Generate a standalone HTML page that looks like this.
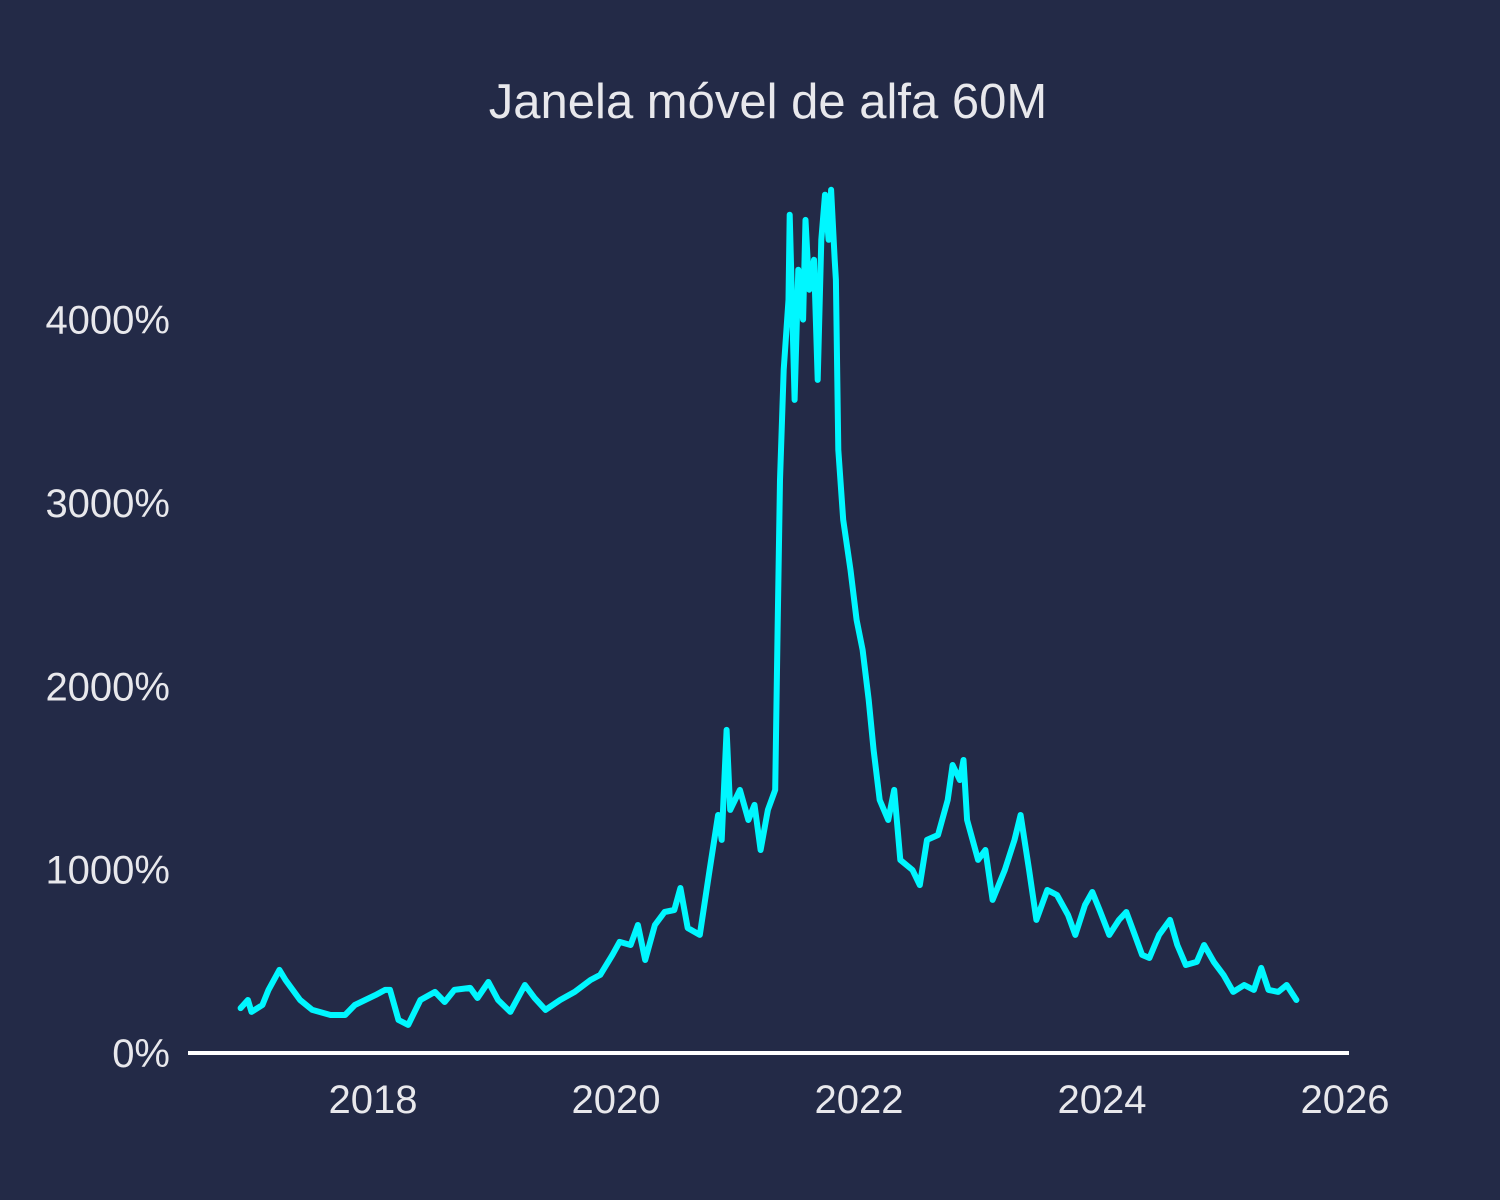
<!DOCTYPE html>
<html><head><meta charset="utf-8">
<style>
html,body{margin:0;padding:0;background:#232a47;}
svg{display:block;font-family:"Liberation Sans",sans-serif;}
</style></head>
<body>
<svg id="chart" width="1500" height="1200" viewBox="0 0 1500 1200">
<rect width="1500" height="1200" fill="#232a47"/>
<text x="768" y="118" text-anchor="middle" font-size="49" fill="#e8e8ec">Janela móvel de alfa 60M</text>
<g id="yticks"></g><g id="xticks"></g>
<line x1="188" x2="1349" y1="1053" y2="1053" stroke="#ffffff" stroke-width="4"/>
<path id="series" fill="none" stroke="#00f7ff" stroke-width="6" stroke-linejoin="round" stroke-linecap="round"/>
</svg>
<script>
const years = [2016.91,2016.97,2017.0,2017.09,2017.14,2017.23,2017.28,2017.40,2017.50,2017.65,2017.77,2017.85,2018.02,2018.10,2018.14,2018.21,2018.29,2018.39,2018.51,2018.59,2018.67,2018.80,2018.86,2018.95,2019.03,2019.13,2019.25,2019.33,2019.42,2019.54,2019.66,2019.79,2019.87,2019.97,2020.03,2020.12,2020.18,2020.24,2020.32,2020.40,2020.48,2020.53,2020.59,2020.69,2020.77,2020.84,2020.87,2020.91,2020.94,2021.02,2021.09,2021.14,2021.19,2021.25,2021.31,2021.33,2021.35,2021.38,2021.42,2021.43,2021.47,2021.50,2021.54,2021.56,2021.59,2021.63,2021.66,2021.69,2021.72,2021.75,2021.77,2021.80,2021.81,2021.83,2021.87,2021.93,2021.98,2022.03,2022.08,2022.12,2022.17,2022.24,2022.29,2022.34,2022.44,2022.50,2022.56,2022.65,2022.73,2022.77,2022.83,2022.86,2022.89,2022.98,2023.04,2023.10,2023.20,2023.28,2023.33,2023.40,2023.46,2023.55,2023.63,2023.72,2023.78,2023.86,2023.92,2023.98,2024.06,2024.14,2024.20,2024.27,2024.33,2024.39,2024.47,2024.56,2024.62,2024.69,2024.78,2024.84,2024.92,2025.0,2025.08,2025.17,2025.25,2025.31,2025.37,2025.45,2025.52,2025.60];
const alphaValues = [245,289,224,262,344,453,398,289,235,207,207,262,316,344,344,180,153,289,333,278,344,355,300,387,289,224,371,300,235,289,333,398,426,535,606,589,698,507,698,769,780,900,682,644,998,1298,1162,1762,1326,1435,1271,1353,1107,1326,1435,2308,3126,3726,4108,4572,3562,4272,4000,4544,4163,4326,3671,4435,4681,4435,4708,4326,4217,3290,2908,2635,2362,2199,1926,1653,1380,1271,1435,1053,998,916,1162,1189,1380,1571,1489,1598,1271,1053,1107,835,998,1162,1298,998,726,889,862,753,644,807,878,780,644,726,769,644,535,518,644,726,589,480,497,589,497,426,333,371,344,464,344,333,371,289];
const yTickValues = [0,1000,2000,3000,4000];
const yTickLabels = ["0%","1000%","2000%","3000%","4000%"];
const xTickValues = [2018,2020,2022,2024,2026];
const xTickLabels = ["2018","2020","2022","2024","2026"];

const NS = "http://www.w3.org/2000/svg";
function xScale(yr){ return 373 + (yr - 2018) * 121.5; }
function yScale(v){ return 1053 - v * 0.18335; }

const yg = document.getElementById('yticks');
yTickValues.forEach((v,i)=>{
  const t = document.createElementNS(NS,'text');
  t.setAttribute('x',170); t.setAttribute('y',yScale(v)+14);
  t.setAttribute('text-anchor','end'); t.setAttribute('font-size','40'); t.setAttribute('fill','#e8e8ec');
  t.textContent = yTickLabels[i];
  
  
  yg.appendChild(t);
});
const xg = document.getElementById('xticks');
xTickValues.forEach((v,i)=>{
  const t = document.createElementNS(NS,'text');
  t.setAttribute('x',xScale(v)); t.setAttribute('y',1113);
  t.setAttribute('text-anchor','middle'); t.setAttribute('font-size','40'); t.setAttribute('fill','#e8e8ec');
  t.textContent = xTickLabels[i];
  
  
  xg.appendChild(t);
});
let d = '';
years.forEach((yr,i)=>{ d += (i?'L':'M') + xScale(yr).toFixed(1) + ' ' + yScale(alphaValues[i]).toFixed(1) + ' '; });
document.getElementById('series').setAttribute('d', d);
</script>
</body></html>
